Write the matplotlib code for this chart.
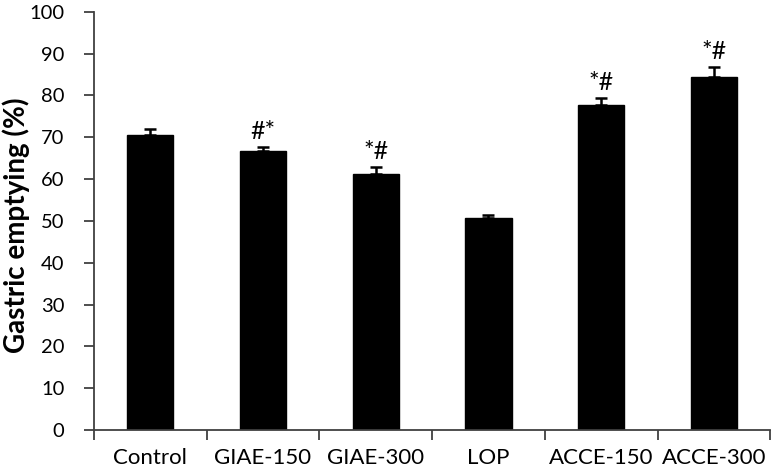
import matplotlib
matplotlib.use("Agg")
import matplotlib.pyplot as plt
import numpy as np

categories = ["Control", "GIAE-150", "GIAE-300", "LOP", "ACCE-150", "ACCE-300"]
values = [70.6, 66.6, 61.2, 50.6, 77.8, 84.3]
errors = [1.3, 1.0, 1.7, 0.7, 1.5, 2.4]
annotations = ["", "#*", "*#", "", "*#", "*#"]
yticks = [0, 10, 20, 30, 40, 50, 60, 70, 80, 90, 100]

plt.rcParams['font.family'] = ['Lato', 'DejaVu Sans']

fig = plt.figure(figsize=(7.75, 4.73), dpi=100)
ax = fig.add_axes([0.121, 0.091, 0.873, 0.884])

x = np.arange(len(categories))
ax.bar(x, values, width=0.41, color='black', edgecolor='black', zorder=2)
ax.errorbar(x, values, yerr=[np.zeros(len(errors)), errors], fmt='none',
            ecolor='black', elinewidth=1.8, capsize=4.5, capthick=1.8, zorder=3)

for xi, v, e, a in zip(x, values, errors, annotations):
    if a:
        ax.text(xi, v + e + 1.0, a, ha='center', va='bottom', fontsize=18, color='black')

ax.set_xlim(-0.5, len(categories) - 0.5)
ax.set_ylim(0, 100)
ax.set_yticks(yticks)
ax.set_yticklabels([str(t) for t in yticks], fontsize=14.5)
ax.set_xticks(x)
ax.set_xticklabels(categories, fontsize=16)
ax.tick_params(axis='x', which='major', length=0, pad=13)
ax.set_xticks(np.arange(-0.5, len(categories), 1), minor=True)
ax.tick_params(axis='x', which='minor', length=7, width=1.3, color='#404040', direction='out')
ax.tick_params(axis='y', length=7, width=1.3, color='#404040', direction='out', pad=14)

for s in ['top', 'right']:
    ax.spines[s].set_visible(False)
for s in ['left', 'bottom']:
    ax.spines[s].set_color('#404040')
    ax.spines[s].set_linewidth(1.3)

ax.set_ylabel("Gastric emptying (%)", fontsize=20, fontweight='bold', va='center')
ax.yaxis.set_label_coords(-0.114, 0.49)

fig.savefig("out.png", dpi=100)
